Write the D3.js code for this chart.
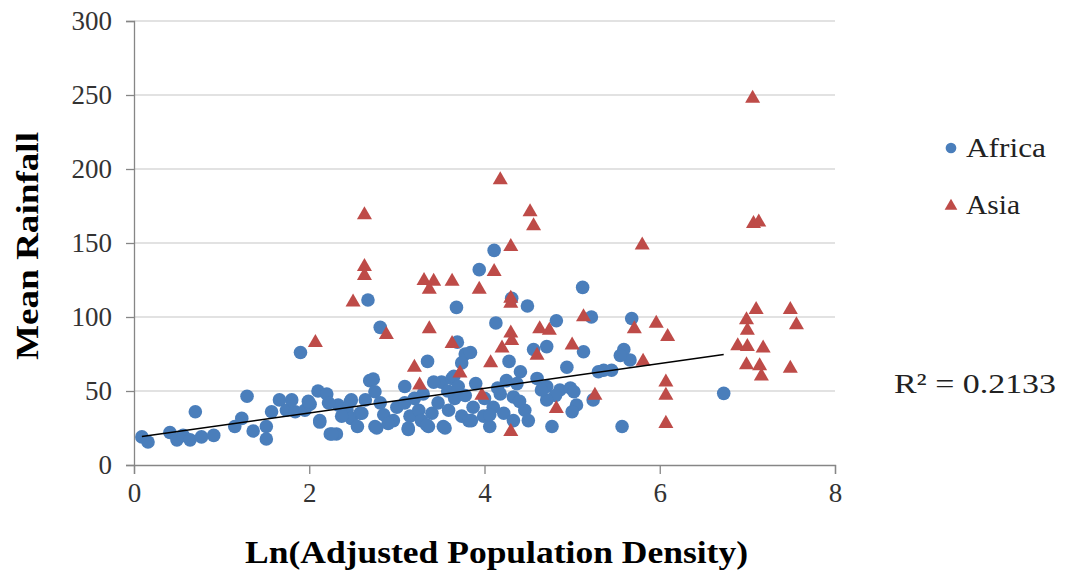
<!DOCTYPE html>
<html>
<head>
<meta charset="utf-8">
<script src="https://cdn.jsdelivr.net/npm/d3@7"></script>
<style>
  body { margin: 0; background: #fff; }
  text { font-family: "Liberation Serif", "DejaVu Serif", serif; }
</style>
</head>
<body>
<div id="display"></div>
<script>
// values: [ln(adjusted population density), mean rainfall]
const africa = [
  [0.09,19],[0.16,15.5],[0.41,22],[0.49,17],[0.56,20],[0.64,17],[0.70,36],[0.77,19],[0.91,20],
  [1.15,26],[1.23,31.5],[1.29,46.5],[1.36,23],[1.51,26],[1.51,17.6],[1.57,36],[1.66,44],[1.74,37],
  [1.84,36],[1.90,76],[1.95,37],[2.01,41],[2.10,50],[2.20,48],[2.12,29],[2.24,21],[2.31,21],
  [2.33,40.5],[2.43,37],[2.48,44],[2.48,31.5],[2.58,35],[2.64,44],[2.69,57],[2.67,111.5],[2.81,93],
  [2.73,58],[2.75,49.5],[1.99,43],[2.12,30],[2.22,42],[2.26,21],[2.37,33],[2.47,43],[2.60,35],
  [2.75,26],[2.81,42],[2.85,34],[2.96,30],[3.00,39],[3.09,42],[3.13,24],[3.15,33],[3.25,37],
  [3.28,30],[3.36,26],[3.40,35],[3.47,42],[3.53,26],[3.59,37],[3.66,45],[3.74,33],[3.82,30],
  [3.78,47],[3.51,56],[3.63,58.5],[3.09,53],[3.35,70],[3.42,56],[3.65,60],[3.69,83],[3.78,75],
  [3.74,69],[3.68,106.5],[3.94,132],[4.11,145],[4.13,96],[4.31,112.6],[4.49,107.4],[4.82,97.5],
  [5.22,100],[5.12,120],[5.68,99],[4.28,70],[4.56,78],[4.71,80],[5.13,76.5],[5.59,78],[5.66,71],
  [5.55,74],[4.94,66],[5.36,64],[5.45,64],[5.30,63],[4.41,63],[4.60,58.5],[4.71,53],[4.86,50.7],
  [4.98,52],[5.02,49.5],[4.81,47],[4.71,44],[5.05,40.5],[5.24,44],[5.00,36],[4.77,26],[5.57,26],
  [4.46,37],[3.87,39],[3.99,33],[4.10,39],[4.18,48],[4.25,57],[4.33,46],[4.22,35],[4.06,26],
  [4.33,30],[3.84,76],[4.65,50.7],[2.77,25],[3.13,25],[3.34,27],[3.55,25],[3.85,30],[4.06,34],
  [6.73,48.4],[2.90,28],[3.20,45],[3.58,50],[3.90,55],[4.00,45],[4.15,52],[4.40,43],[4.50,30],
  [2.55,26],[1.80,44],[3.30,48],[3.70,53],[4.37,55]
];
const asia = [
  [2.07,82.6],[2.50,110],[2.63,169],[2.63,134],[2.63,128],[2.88,88],[3.20,66],[3.26,54],
  [3.31,124.5],[3.42,124],[3.37,118.7],[3.63,124],[3.37,92],[3.63,82],[3.72,62],[3.94,118.7],
  [3.97,47],[4.07,69],[4.11,130.6],[4.18,192.6],[4.20,79],[4.30,147.5],[4.30,112.6],[4.30,109.2],
  [4.30,89],[4.31,84],[4.30,22.5],[4.52,171],[4.56,161.5],[4.60,74],[4.63,92],[4.74,91],[4.82,38],
  [5.00,81],[5.13,100],[5.26,47],[5.71,92],[5.80,148.6],[5.81,70],[5.96,95.7],[6.09,86.7],
  [6.07,56],[6.07,47],[6.07,28],[6.89,80.4],[6.99,98],[7.00,91],[7.00,80],[6.99,67.6],[7.06,247.7],
  [7.07,163],[7.13,164],[7.10,105],[7.18,79],[7.14,67],[7.16,60],[7.49,105],[7.56,94.6],[7.49,65.3]
];
// linear trendline (Africa) as drawn: start/end x and fitted y
const trendX = [0.09, 6.73];
const trendY = [19.2, 74.6];
const rSquared = "R² = 0.2133";
const xTicks = [0, 2, 4, 6, 8];
const yTicks = [0, 50, 100, 150, 200, 250, 300];
const seriesNames = ["Africa", "Asia"];

const width = 1067, height = 580;
const margin = {left: 134, right: 232, top: 21, bottom: 115};
const serif = '"Liberation Serif", "DejaVu Serif", serif';

const svg = d3.select("#display").append("svg")
    .attr("width", width)
    .attr("height", height);

const x = d3.scaleLinear().domain([0, 8]).range([margin.left, width - margin.right]);
const y = d3.scaleLinear().domain([0, 300]).range([height - margin.bottom, margin.top]);

// gridlines
svg.append("g")
  .selectAll("line")
  .data(yTicks.filter(d => d > 0))
  .join("line")
    .attr("x1", x(0)).attr("x2", x(8))
    .attr("y1", d => y(d)).attr("y2", d => y(d))
    .attr("stroke", "#d9d9d9")
    .attr("stroke-width", 1.3);

const yAxis = svg.append("g")
    .attr("transform", `translate(${x(0)},0)`)
    .call(d3.axisLeft(y).tickValues(yTicks).tickSize(8).tickPadding(14))
    .attr("font-family", serif)
    .attr("font-size", 27);
const xAxis = svg.append("g")
    .attr("transform", `translate(0,${y(0)})`)
    .call(d3.axisBottom(x).tickValues(xTicks).tickSize(9).tickPadding(9))
    .attr("font-family", serif)
    .attr("font-size", 27);

yAxis.selectAll(".domain").attr("stroke", "#868686").attr("stroke-width", 1.3);
yAxis.selectAll(".tick line").attr("stroke", "#868686").attr("stroke-width", 1.3);
yAxis.selectAll(".tick text").attr("fill", "#333");
xAxis.selectAll(".domain").attr("stroke", "#868686").attr("stroke-width", 1.3);
xAxis.selectAll(".tick line").attr("stroke", "#868686").attr("stroke-width", 1.3);
xAxis.selectAll(".tick text").attr("fill", "#333");

const blue = "#4a7ebb", red = "#be4b48";

svg.append("g")
  .selectAll("path")
  .data(africa)
  .join("path")
    .attr("transform", d => `translate(${x(d[0])},${y(d[1])})`)
    .attr("d", d3.symbol(d3.symbolCircle, 145))
    .attr("fill", blue);

svg.append("g")
  .selectAll("path")
  .data(asia)
  .join("path")
    .attr("transform", d => `translate(${x(d[0])},${y(d[1])})`)
    .attr("d", d3.symbol(d3.symbolTriangle, 98))
    .attr("fill", red);

// trendline
svg.append("line")
    .attr("x1", x(trendX[0])).attr("y1", y(trendY[0]))
    .attr("x2", x(trendX[1])).attr("y2", y(trendY[1]))
    .attr("stroke", "#000")
    .attr("stroke-width", 1.5);

// axis titles
svg.append("text")
    .attr("x", (x(0) + x(8)) / 2 + 12)
    .attr("y", 563)
    .attr("text-anchor", "middle")
    .attr("font-weight", "bold")
    .attr("font-size", "31px")
    .attr("textLength", 503)
    .attr("lengthAdjust", "spacingAndGlyphs")
    .text("Ln(Adjusted Population Density)");

svg.append("text")
    .attr("transform", `translate(38,246) rotate(-90)`)
    .attr("text-anchor", "middle")
    .attr("font-weight", "bold")
    .attr("font-size", "31px")
    .attr("textLength", 228)
    .attr("lengthAdjust", "spacingAndGlyphs")
    .text("Mean Rainfall");

// legend
const legend = svg.append("g");
legend.append("path")
    .attr("transform", "translate(951,148)")
    .attr("d", d3.symbol(d3.symbolCircle, 90))
    .attr("fill", blue);
legend.append("path")
    .attr("transform", "translate(951,206)")
    .attr("d", d3.symbol(d3.symbolTriangle, 70))
    .attr("fill", red);
legend.selectAll("text")
  .data(seriesNames)
  .join("text")
    .attr("x", 966)
    .attr("y", (d, i) => 157 + i * 57)
    .attr("font-size", "28px")
    .attr("fill", "#222")
    .attr("textLength", (d, i) => [80, 54][i])
    .attr("lengthAdjust", "spacingAndGlyphs")
    .text(d => d);

svg.append("text")
    .attr("x", 894)
    .attr("y", 393)
    .attr("font-size", "28px")
    .attr("fill", "#222")
    .attr("textLength", 162)
    .attr("lengthAdjust", "spacingAndGlyphs")
    .text(rSquared);
</script>
</body>
</html>
